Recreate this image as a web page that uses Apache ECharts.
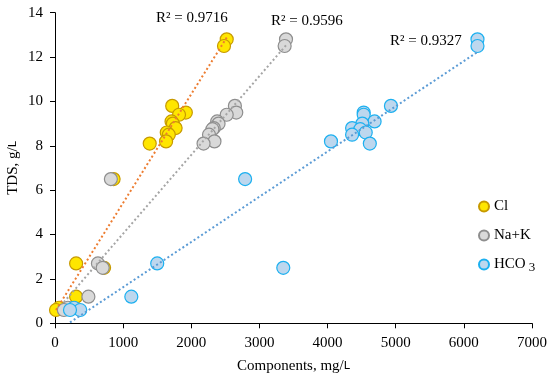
<!DOCTYPE html>
<html>
<head>
<meta charset="utf-8">
<script src="https://cdn.jsdelivr.net/npm/echarts@6/dist/echarts.min.js"></script>
<style>
html,body{margin:0;padding:0;background:#fff;}
#chart{width:550px;height:376px;}
</style>
</head>
<body>
<div id="chart"></div>
<script>
// Cl (mg/L) vs TDS (g/L)
const clX = [2520, 2480, 1720, 1920, 1820, 1710, 1730, 1770, 1640, 1670, 1630, 1390, 860, 310, 720, 310, 60, 15];
const clY = [12.8, 12.5, 9.8, 9.5, 9.4, 9.1, 9.0, 8.8, 8.6, 8.5, 8.2, 8.1, 6.5, 2.7, 2.5, 1.2, 0.7, 0.6];
// Na+K
const nakX = [3390, 3370, 2640, 2660, 2520, 2380, 2400, 2330, 2310, 2260, 2340, 2180, 820, 630, 700, 490, 190, 130];
const nakY = [12.8, 12.5, 9.8, 9.5, 9.4, 9.1, 9.0, 8.8, 8.75, 8.5, 8.2, 8.1, 6.5, 2.7, 2.5, 1.2, 0.7, 0.6];
// HCO3
const hcoX = [6200, 6200, 4930, 4530, 4530, 4690, 4510, 4360, 4480, 4560, 4360, 4050, 4620, 2790, 1500, 3350, 1120, 280, 370, 220];
const hcoY = [12.8, 12.5, 9.8, 9.5, 9.4, 9.1, 9.0, 8.8, 8.75, 8.6, 8.5, 8.2, 8.1, 6.5, 2.7, 2.5, 1.2, 0.7, 0.6, 0.6];

const seriesNames = ['Cl', 'Na+K', 'HCO3'];
const r2Labels = ['R² = 0.9716', 'R² = 0.9596', 'R² = 0.9327'];
const xTicks = [0, 1000, 2000, 3000, 4000, 5000, 6000, 7000];
const yTicks = [0, 2, 4, 6, 8, 10, 12, 14];

function pairs(xs, ys) { return xs.map((x, i) => [x, ys[i]]); }
function trend(xs, ys) {
  const n = xs.length;
  const mx = xs.reduce((a, b) => a + b, 0) / n;
  const my = ys.reduce((a, b) => a + b, 0) / n;
  let sxy = 0, sxx = 0;
  for (let i = 0; i < n; i++) { sxy += (xs[i] - mx) * (ys[i] - my); sxx += (xs[i] - mx) ** 2; }
  const b = sxy / sxx, a = my - b * mx;
  const x0 = Math.min(...xs), x1 = Math.max(...xs);
  return [[x0, a + b * x0], [x1, a + b * x1]];
}

const font = 'Liberation Serif';
const chart = echarts.init(document.getElementById('chart'));

const markerStyles = [
  { color: '#FFE600', borderColor: '#C79A00' },
  { color: '#D9D9D9', borderColor: '#8E8E8E' },
  { color: '#BDD7EE', borderColor: '#1CB0F0' }
];
const lineColors = ['#ED7D31', '#A5A5A5', '#5B9BD5'];
const dataX = [clX, nakX, hcoX], dataY = [clY, nakY, hcoY];

const series = [];
for (let i = 0; i < 3; i++) {
  series.push({
    name: seriesNames[i], type: 'scatter', symbol: 'circle', symbolSize: 13,
    data: pairs(dataX[i], dataY[i]),
    itemStyle: { color: markerStyles[i].color, borderColor: markerStyles[i].borderColor, borderWidth: 1.2, opacity: 1 },
    z: 2 + i, emphasis: { disabled: true }
  });
}
for (let i = 0; i < 3; i++) {
  series.push({
    name: 'trend' + i, type: 'line', data: trend(dataX[i], dataY[i]),
    showSymbol: false, symbol: 'none', silent: true,
    lineStyle: { color: lineColors[i], width: 2, type: [2, 2.5] },
    z: 10
  });
}

chart.setOption({
  animation: false,
  textStyle: { fontFamily: font },
  grid: { left: 55, right: 18, top: 12.7, bottom: 52.7, containLabel: false, outerBoundsMode: 'none' },
  xAxis: {
    type: 'value', min: 0, max: 7000, interval: 1000,
    name: 'Components, mg/{s|L}', nameLocation: 'middle', nameGap: 35, nameMoveOverlap: false,
    nameTextStyle: { fontFamily: font, fontSize: 15, color: '#000',
      rich: { s: { fontFamily: 'DejaVu Sans', fontSize: 11, color: '#000', padding: [1, 0, 0, 0] } } },
    axisLine: { show: true, lineStyle: { color: '#000', width: 1 } },
    axisTick: { show: true, inside: false, length: 5, lineStyle: { color: '#000' } },
    axisLabel: { fontFamily: font, fontSize: 15, color: '#000', margin: 12,
      formatter: v => xTicks.includes(v) ? String(v) : '' },
    splitLine: { show: false }
  },
  yAxis: {
    type: 'value', min: 0, max: 14, interval: 2,
    name: 'TDS, g/{s|L}', nameLocation: 'middle', nameGap: 34, nameRotate: 90, nameMoveOverlap: false,
    nameTextStyle: { fontFamily: font, fontSize: 15, color: '#000',
      rich: { s: { fontFamily: 'DejaVu Sans', fontSize: 11, color: '#000' } } },
    axisLine: { show: true, lineStyle: { color: '#000', width: 1 } },
    axisTick: { show: true, inside: false, length: 5, lineStyle: { color: '#000' } },
    axisLabel: { fontFamily: font, fontSize: 15, color: '#000', margin: 12,
      formatter: v => yTicks.includes(v) ? String(v) : '' },
    splitLine: { show: false }
  },
  legend: {
    data: seriesNames, orient: 'vertical', left: 473, top: 194,
    icon: 'circle', itemWidth: 10, itemHeight: 10, itemGap: 14,
    textStyle: { fontFamily: font, fontSize: 15, color: '#000',
      rich: { sub: { fontFamily: font, fontSize: 13, color: '#000', padding: [7, 0, 0, 3] } } },
    formatter: n => n === 'HCO3' ? 'HCO{sub|3}' : n,
    selectedMode: false
  },
  graphic: [
    { type: 'text', left: 156, top: 11, style: { text: r2Labels[0], font: '15px "Liberation Serif"', fill: '#000' } },
    { type: 'text', left: 271, top: 14, style: { text: r2Labels[1], font: '15px "Liberation Serif"', fill: '#000' } },
    { type: 'text', left: 390, top: 34, style: { text: r2Labels[2], font: '15px "Liberation Serif"', fill: '#000' } }
  ],
  series: series
});
</script>
</body>
</html>
